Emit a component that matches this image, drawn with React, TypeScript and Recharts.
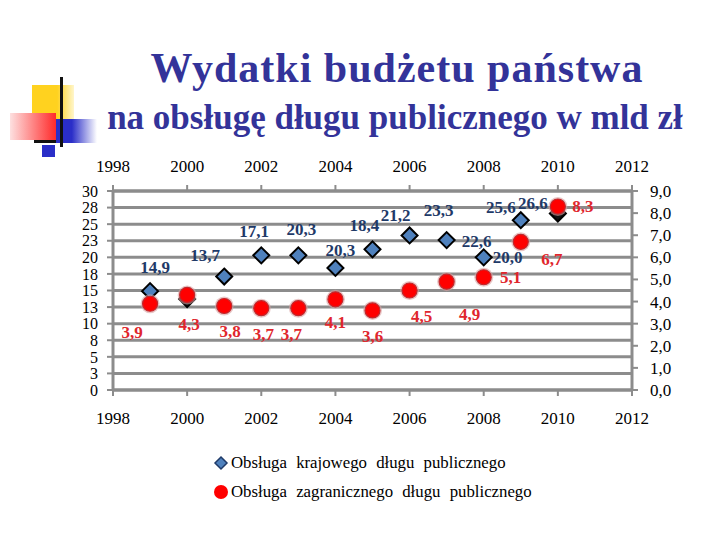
import { CartesianGrid, Legend, Scatter, ScatterChart, XAxis, YAxis } from 'recharts'

const years = [1999, 2000, 2001, 2002, 2003, 2004, 2005, 2006, 2007, 2008, 2009, 2010]
const domestic = [14.9, 13.7, 17.1, 20.3, 20.3, 18.4, 21.2, 23.3, 22.6, 20.0, 25.6, 26.6]
const foreign = [3.9, 4.3, 3.8, 3.7, 3.7, 4.1, 3.6, 4.5, 4.9, 5.1, 6.7, 8.3]
const yearTicks = [1998, 2000, 2002, 2004, 2006, 2008, 2010, 2012]
const leftTicks = [0, 2.5, 5, 7.5, 10, 12.5, 15, 17.5, 20, 22.5, 25, 27.5, 30]
const rightTicks = [0, 1, 2, 3, 4, 5, 6, 7, 8, 9]
const seriesNames = ['Obsługa krajowego długu publicznego', 'Obsługa zagranicznego długu publicznego']

// hand-placed data labels in the original slide (offset from the marker, px)
const domesticLabelOffsets = [[5, -24], [18, -44], [30, -45], [40, -26], [42, -5], [29, -42], [23, -34], [29, -25], [30, 1], [24, 0], [-20, -13], [-25, -10]]
const foreignLabelOffsets = [[-18, 29], [2, 30], [6, 26], [2, 26], [-7, 26], [0, 23], [0, 26], [12, 26], [23, 33], [27, 0], [31, 18], [25, 0]]
const shadowedYears = [2000, 2010]

const domesticData = years.map((year, i) => ({ year, value: domestic[i], i }))
const foreignData = years.map((year, i) => ({ year, value: foreign[i], i }))

const GRAY = '#8c8c8c'
const BLUE = '#4f81bd'
const NAVY = '#1f3a68'
const RED = '#ff0000'
const RED_TEXT = '#e0262d'
const TITLE = '#333399'
const FONT = 'Liberation Serif, serif'

const comma = (v: number) => v.toFixed(1).replace('.', ',')

function DiamondShape(props: any) {
  const { cx, cy, payload } = props
  if (cx == null || cy == null) return null
  const r = 8
  const [dx, dy] = domesticLabelOffsets[payload.i]
  const dark = shadowedYears.includes(payload.year)
  return (
    <g>
      <polygon
        points={`${cx},${cy - r} ${cx + r},${cy} ${cx},${cy + r} ${cx - r},${cy}`}
        fill={dark ? '#111' : BLUE}
        stroke="#000"
        strokeWidth={2}
      />
      <text x={cx + dx} y={cy + dy} textAnchor="middle" dominantBaseline="central" fontFamily={FONT} fontWeight="bold" fontSize={17} fill={NAVY}>
        {comma(payload.value)}
      </text>
    </g>
  )
}

function CircleShape(props: any) {
  const { cx, cy, payload } = props
  if (cx == null || cy == null) return null
  const [dx, dy] = foreignLabelOffsets[payload.i]
  return (
    <g>
      <circle cx={cx} cy={cy} r={9.5} fill="#d9a0a0" opacity={0.6} />
      <circle cx={cx} cy={cy} r={7.5} fill={RED} stroke="#c0282d" strokeWidth={1.2} />
      <text x={cx + dx} y={cy + dy} textAnchor="middle" dominantBaseline="central" fontFamily={FONT} fontWeight="bold" fontSize={17} fill={RED_TEXT}>
        {comma(payload.value)}
      </text>
    </g>
  )
}

function LegendBox() {
  return (
    <div style={{ fontFamily: FONT, fontSize: 16.8, color: '#000', wordSpacing: 5 }}>
      <div style={{ display: 'flex', alignItems: 'center', height: 29 }}>
        <svg width={16} height={16} style={{ marginRight: 2 }}>
          <polygon points="8,2 14,8 8,14 2,8" fill={BLUE} stroke="#1f3a68" strokeWidth={1.5} />
        </svg>
        {seriesNames[0]}
      </div>
      <div style={{ display: 'flex', alignItems: 'center', height: 29 }}>
        <svg width={16} height={16} style={{ marginRight: 2 }}>
          <circle cx={8} cy={8} r={7} fill={RED} />
        </svg>
        {seriesNames[1]}
      </div>
    </div>
  )
}

const tickStyle = { fontFamily: FONT, fontSize: 17, fill: '#000' }
const leftTickStyle = { fontFamily: FONT, fontSize: 16, fill: '#000' }

export default function App() {
  return (
    <div style={{ position: 'absolute', left: 0, top: 0, width: 720, height: 540, background: '#fff', overflow: 'hidden' }}>
      {/* slide decoration */}
      <div style={{ position: 'absolute', left: 32, top: 85, width: 42, height: 35, background: 'linear-gradient(to right, #ffd21f 60%, #fff6cc)' }} />
      <div style={{ position: 'absolute', left: 55, top: 119, width: 42, height: 24, background: 'linear-gradient(to right, #2a2ec8 40%, #ffffff)' }} />
      <div style={{ position: 'absolute', left: 10, top: 113, width: 46, height: 27, background: 'linear-gradient(to right, #fde0e0, #ff2a2a)' }} />
      <div style={{ position: 'absolute', left: 42, top: 145, width: 13, height: 12, background: '#2a2ec8' }} />
      <div style={{ position: 'absolute', left: 60, top: 77, width: 3, height: 70, background: '#111' }} />
      <div style={{ position: 'absolute', left: 34, top: 140, width: 22, height: 3, background: '#111' }} />

      <div style={{ position: 'absolute', left: 97, width: 600, top: 42, textAlign: 'center', fontFamily: FONT, fontWeight: 'bold', fontSize: 42, letterSpacing: 1, color: TITLE, lineHeight: '52px' }}>
        Wydatki budżetu państwa
      </div>
      <div style={{ position: 'absolute', left: 45, width: 700, top: 98, textAlign: 'center', fontFamily: FONT, fontWeight: 'bold', fontSize: 35, color: TITLE, lineHeight: '40px' }}>
        na obsługę długu publicznego w mld zł
      </div>

      <div style={{ position: 'absolute', left: 0, top: 0 }}>
        <ScatterChart width={720} height={540} margin={{ top: 151, right: 48, bottom: 110, left: 73 }}>
          <CartesianGrid yAxisId="left" xAxisId="bottom" vertical={false} stroke={GRAY} strokeWidth={3} />
          <XAxis
            xAxisId="bottom"
            type="number"
            dataKey="year"
            domain={[1998, 2012]}
            ticks={yearTicks}
            height={40}
            axisLine={{ stroke: GRAY, strokeWidth: 3 }}
            tickLine={{ stroke: GRAY, strokeWidth: 2 }}
            tickSize={6}
            tickMargin={16}
            tick={tickStyle}
          />
          <XAxis
            xAxisId="top"
            orientation="top"
            type="number"
            dataKey="year"
            domain={[1998, 2012]}
            ticks={yearTicks}
            height={40}
            axisLine={{ stroke: GRAY, strokeWidth: 3 }}
            tickLine={{ stroke: GRAY, strokeWidth: 2 }}
            tickSize={6}
            tickMargin={13}
            tick={tickStyle}
          />
          <YAxis
            yAxisId="left"
            type="number"
            dataKey="value"
            domain={[0, 30]}
            ticks={leftTicks}
            interval={0}
            width={40}
            tickFormatter={(v: number) => String(Math.round(v))}
            axisLine={{ stroke: GRAY, strokeWidth: 3 }}
            tickLine={{ stroke: GRAY, strokeWidth: 2 }}
            tickSize={6}
            tickMargin={9}
            tick={leftTickStyle}
          />
          <YAxis
            yAxisId="right"
            orientation="right"
            type="number"
            dataKey="value"
            domain={[0, 9]}
            ticks={rightTicks}
            interval={0}
            width={40}
            tickFormatter={comma}
            axisLine={{ stroke: GRAY, strokeWidth: 3 }}
            tickLine={{ stroke: GRAY, strokeWidth: 2 }}
            tickSize={6}
            tickMargin={12}
            tick={tickStyle}
          />
          <Scatter
            name={seriesNames[0]}
            data={domesticData}
            xAxisId="bottom"
            yAxisId="left"
            dataKey="value"
            shape={DiamondShape}
            isAnimationActive={false}
          />
          <Scatter
            name={seriesNames[1]}
            data={foreignData}
            xAxisId="top"
            yAxisId="right"
            dataKey="value"
            shape={CircleShape}
            isAnimationActive={false}
          />
          <Legend
            layout="vertical"
            align="center"
            verticalAlign="middle"
            content={() => <LegendBox />}
            wrapperStyle={{ left: 213, top: 448, width: 360, height: 60 }}
          />
        </ScatterChart>
      </div>
    </div>
  )
}
